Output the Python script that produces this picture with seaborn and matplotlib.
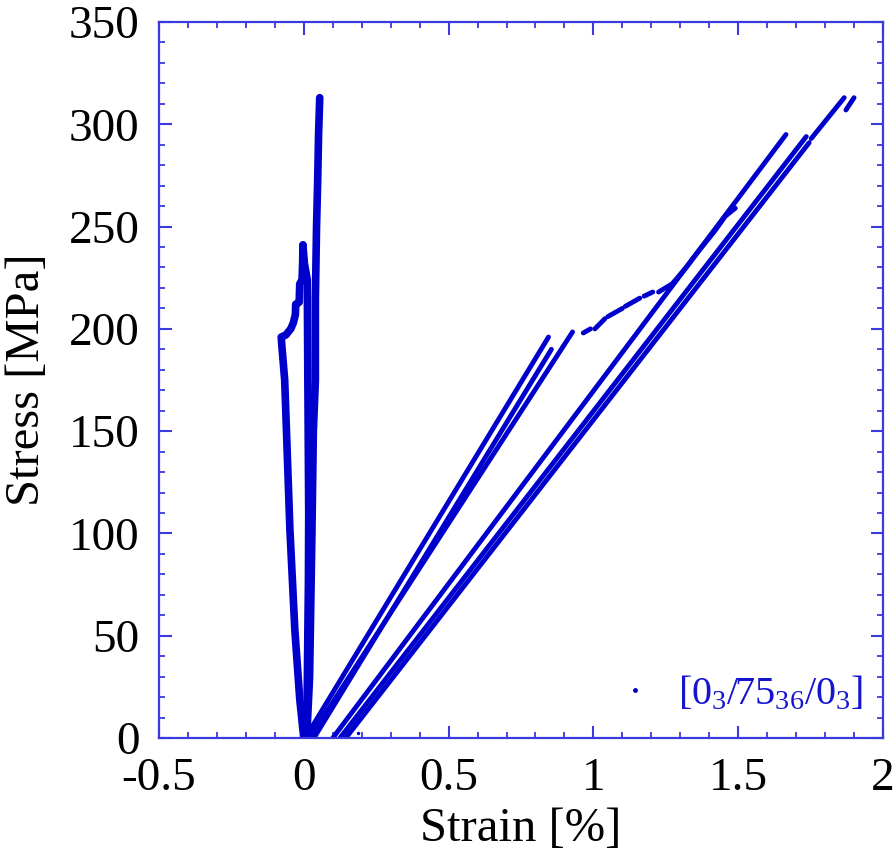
import matplotlib
matplotlib.use("Agg")
import matplotlib.pyplot as plt
import numpy as np
import pandas as pd
import seaborn as sns
from matplotlib.lines import Line2D
from matplotlib.ticker import MultipleLocator, FuncFormatter

# ---------------- data ----------------
# near-zero strain gauge (transverse) branches
trans_load_strain = [0.0, -0.014, -0.031, -0.048, -0.066, -0.076, -0.078, -0.062, -0.045, -0.036,
                     -0.029, -0.028, -0.016, -0.014, -0.006, -0.004, -0.003]
trans_load_stress = [0, 19, 53, 102, 175, 192, 196, 197, 200, 203, 207, 212, 213, 222, 224, 232, 241]

trans_unload_strain = [-0.003, 0.002, 0.012, 0.014, 0.017, 0.016, 0.012, 0.010]
trans_unload_stress = [241, 232, 224, 175, 110, 77, 25, 0]

trans_reload_strain = [0.010, 0.020, 0.028, 0.033, 0.040, 0.040, 0.044, 0.048, 0.051, 0.055]
trans_reload_stress = [0, 30, 100, 150, 175, 215, 250, 273, 295, 313]

# longitudinal strain branches
long1_strain = [0.005, 0.845]
long1_stress = [0, 196]
long2_strain = [0.035, 0.855]
long2_stress = [0, 190]
long3_strain = [0.020, 0.928]
long3_stress = [0, 198.5]

# damage region after ~198 MPa (acquired with gaps)
dash1_strain = [0.965, 0.990]
dash1_stress = [198, 200]
dash2_strain = [1.005, 1.040]
dash2_stress = [200, 205]
dash3_strain = [1.050, 1.100]
dash3_stress = [206, 210]
dash4_strain = [1.110, 1.160]
dash4_stress = [211, 215]
dash5_strain = [1.175, 1.205]
dash5_stress = [216, 218]
rise_strain = [1.225, 1.272, 1.320, 1.366, 1.420, 1.455, 1.490]
rise_stress = [218, 222, 230, 238.5, 248, 255, 259]

c1_strain = [0.100, 1.665]
c1_stress = [0, 295]
c2_strain = [0.125, 1.735]
c2_stress = [0, 294]
c3_strain = [0.145, 1.745]
c3_stress = [0, 291]
top1_strain = [1.752, 1.866]
top1_stress = [293, 313]
top2_strain = [1.872, 1.900]
top2_stress = [307, 313]

stray_strain = [0.186]
stray_stress = [2.4]

legend_label = r"$\mathregular{[0_3/75_{36}/0_3]}$"
x_label = "Strain [%]"
y_label = "Stress [MPa]"

# ---------------- build table ----------------
segments = [
    ("t1", "trans", trans_load_strain, trans_load_stress),
    ("t2", "trans", trans_unload_strain, trans_unload_stress),
    ("t3", "trans", trans_reload_strain, trans_reload_stress),
    ("l1", "long", long1_strain, long1_stress),
    ("l2", "long", long2_strain, long2_stress),
    ("l3", "long", long3_strain, long3_stress),
    ("d1", "long", dash1_strain, dash1_stress),
    ("d2", "long", dash2_strain, dash2_stress),
    ("d3", "long", dash3_strain, dash3_stress),
    ("d4", "long", dash4_strain, dash4_stress),
    ("d5", "long", dash5_strain, dash5_stress),
    ("r1", "long", rise_strain, rise_stress),
    ("c1", "long", c1_strain, c1_stress),
    ("c2", "long", c2_strain, c2_stress),
    ("c3", "long", c3_strain, c3_stress),
    ("p1", "long", top1_strain, top1_stress),
    ("p2", "long", top2_strain, top2_stress),
]
frames = []
for name, grp, xs, ys in segments:
    frames.append(pd.DataFrame({"seg": name, "group": grp, "strain": xs, "stress": ys}))
df = pd.concat(frames, ignore_index=True)

BLUE = "#0000cc"
SPINE = "#3a3ade"

sns.set_theme(style="ticks")
plt.rcParams["font.family"] = ["Liberation Serif", "DejaVu Serif"]
plt.rcParams["mathtext.fontset"] = "custom"
plt.rcParams["mathtext.rm"] = "Liberation Serif"
plt.rcParams["axes.unicode_minus"] = False

fig = plt.figure(figsize=(8.96, 8.56), dpi=100)
ax = fig.add_axes([159 / 896, 1 - 738 / 856, 724 / 896, 716 / 856])

sns.lineplot(data=df[df.group == "trans"], x="strain", y="stress", units="seg",
             estimator=None, sort=False, color=BLUE, lw=5.5, legend=False, ax=ax,
             solid_capstyle="round", solid_joinstyle="round")
sns.lineplot(data=df[df.group == "long"], x="strain", y="stress", units="seg",
             estimator=None, sort=False, color=BLUE, lw=3.5, legend=False, ax=ax,
             solid_capstyle="round", solid_joinstyle="round")
sns.scatterplot(x=stray_strain, y=stray_stress, color=BLUE, s=6, linewidth=0, ax=ax)

ax.set_xlim(-0.5, 2.0)
ax.set_ylim(0, 350)
ax.xaxis.set_major_locator(MultipleLocator(0.5))
ax.xaxis.set_minor_locator(MultipleLocator(0.1))
ax.yaxis.set_major_locator(MultipleLocator(50))
ax.yaxis.set_minor_locator(MultipleLocator(10))
ax.xaxis.set_major_formatter(FuncFormatter(lambda v, p: f"{v:g}"))
ax.yaxis.set_major_formatter(FuncFormatter(lambda v, p: f"{v:g}"))

for s in ax.spines.values():
    s.set_color(SPINE)
    s.set_linewidth(1.6)
ax.tick_params(which="both", direction="in", top=True, right=True, color=SPINE,
               labelsize=34, labelcolor="black")
ax.tick_params(which="major", length=9, width=1.5)
ax.tick_params(which="minor", length=4.6, width=1.3)
ax.tick_params(axis="y", pad=14)
ax.tick_params(axis="x", pad=14)

ax.set_xlabel(x_label, fontsize=35, color="black", labelpad=5)
ax.set_ylabel(y_label, fontsize=35, color="black", labelpad=14)

handle = Line2D([], [], ls="none", marker="o", ms=2.5, color=BLUE, mec=BLUE)
leg = ax.legend(handles=[handle], labels=[legend_label], loc="lower right",
                bbox_to_anchor=(0.972, 0.035), frameon=False, fontsize=29,
                handlelength=1.0, handletextpad=0.55, borderpad=0, borderaxespad=0)
for t in leg.get_texts():
    t.set_color("#1515d0")

fig.savefig("out.png", dpi=100)
